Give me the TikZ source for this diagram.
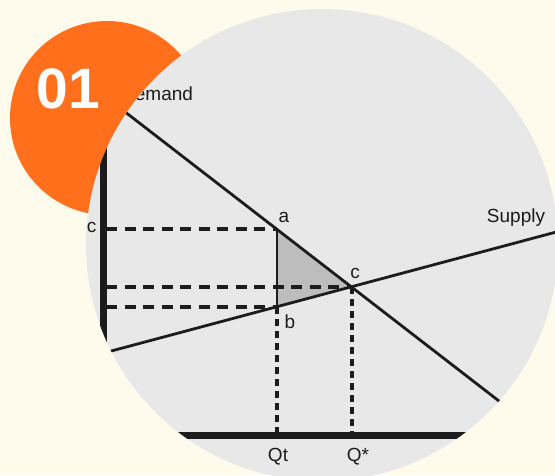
\documentclass[tikz,border=0pt]{standalone}
\usepackage{fontspec}
\setmainfont{Liberation Sans}
\definecolor{cream}{HTML}{FEFBEC}
\definecolor{badge}{HTML}{FF6F1C}
\definecolor{photo}{HTML}{E8E8E8}
\definecolor{ink}{HTML}{1C1C1C}
\definecolor{trifill}{HTML}{BDBDBD}
\tikzset{
  curve/.style={ink, line width=2.8pt},
  hguide/.style={ink, line width=3.2pt, dash pattern=on 11pt off 7.5pt},
  vguide/.style={ink, line width=3.2pt, dash pattern=on 7pt off 5pt},
  axisline/.style={ink, line width=7pt},
  lbl/.style={font=\fontsize{19}{21}\selectfont, text=ink, inner sep=0pt, anchor=base},
}
\begin{document}
\begin{tikzpicture}[x=1pt,y=-1pt]
\fill[cream] (0,0) rectangle (555,475);
\useasboundingbox (0,0) rectangle (555,475);

% badge and photo disc
\fill[badge] (107,118) circle (97pt);
\fill[photo] (322,245) circle (236pt);

\begin{scope}
\clip (322,245) circle (236pt);
\coordinate (a) at (277,229);
\coordinate (b) at (277,307);
\coordinate (c) at (352,287);
\coordinate (dtop) at (120,108);
\coordinate (dbot) at (530,425);
\coordinate (sleft) at (100,354);
\coordinate (sright) at (560,231);
\coordinate (origin) at (103,435);
\coordinate (ytop) at (103,147);
\coordinate (xend) at (560,435);
\coordinate (ya) at (106,229);
\coordinate (yc) at (106,287);
\coordinate (yb) at (106,307);
\coordinate (xb) at (277,435);
\coordinate (xc) at (352,435);

\fill[trifill] (a) -- (b) -- (c) -- cycle;
\draw[hguide] (ya) -- (a);
\draw[hguide] (yc) -- (c);
\draw[hguide] (yb) -- (b);
\draw[vguide] (b) -- (xb);
\draw[vguide] (c) -- (xc);
\draw[curve] (a) -- (b);
\draw[curve] (dtop) -- (dbot);
\draw[curve] (sleft) -- (sright);
\draw[axisline] (ytop) -- (103,438);
\draw[axisline] (origin) -- (xend);

\node[lbl] (la) at (284,222) {a};
\node[lbl] (lb) at (290,328) {b};
\node[lbl] (lc) at (355,278) {c};
\node[lbl] (lpc) at (91.5,232) {c};
\node[lbl] (lsupply) at (516,222) {Supply};
\node[lbl, anchor=base west] (ldemand) at (121,100) {Demand};
\node[lbl] (lqt) at (278,461) {Qt};
\node[lbl] (lqs) at (358,461) {Q*};
\end{scope}

\node[font=\fontsize{57}{60}\selectfont\bfseries, text=white, inner sep=0pt, anchor=base] (num) at (68.5,108) {01};
\end{tikzpicture}
\end{document}
